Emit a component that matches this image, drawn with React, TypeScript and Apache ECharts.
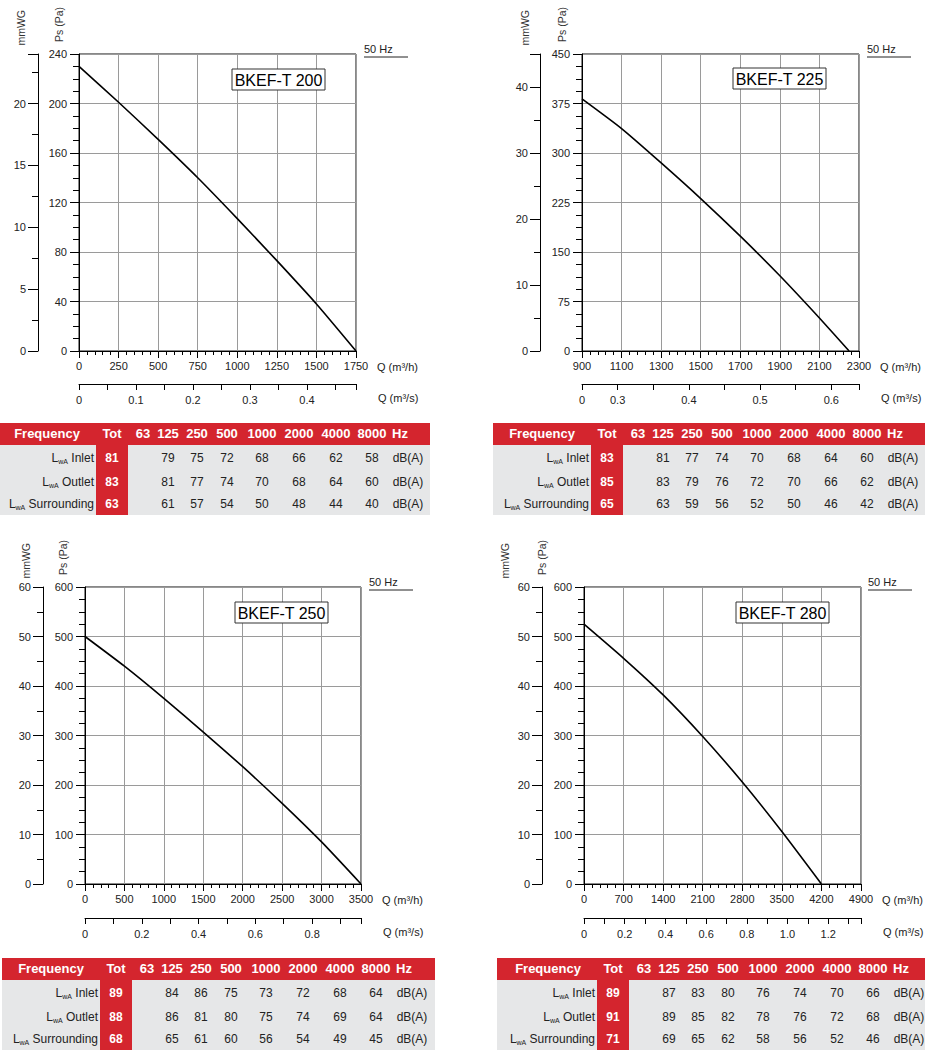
import React, { useEffect, useRef } from 'react';
import * as echarts from 'echarts';

const FONT = '"Liberation Sans", Arial, Helvetica, sans-serif';

// ---------- data ----------
const models = ['BKEF-T 200', 'BKEF-T 225', 'BKEF-T 250', 'BKEF-T 280'];

// Q (m³/h) axes
const qhMin = [0, 900, 0, 0];
const qhMax = [1750, 2300, 3500, 4900];
const qhStep = [250, 200, 500, 700];
// Ps (Pa) axes
const paMax = [240, 450, 600, 600];
const paStep = [40, 75, 100, 100];
// mmWG axes (label step)
const mmStep = [5, 10, 10, 10];
// Q (m³/s) secondary axes: tick step and label step, in m³/s
const qsTickStep = [0.05, 0.05, 0.1, 0.1];
const qsLabelStep = [0.1, 0.1, 0.2, 0.2];

// fan curves: [Q m³/h, Ps Pa]
const curve200 = [[0, 230], [250, 201], [500, 171], [750, 140], [1000, 107], [1250, 73], [1500, 38], [1750, 0]];
const curve225 = [[900, 382], [1100, 337], [1300, 285], [1500, 231], [1700, 174], [1900, 114], [2100, 50], [2250, 0]];
const curve250 = [[0, 500], [500, 440], [1000, 375], [1500, 307], [2000, 237], [2500, 163], [3000, 85], [3500, 0]];
const curve280 = [[0, 525], [700, 456], [1400, 382], [2100, 298], [2800, 206], [3500, 106], [4200, 0]];
const curves = [curve200, curve225, curve250, curve280];

// sound tables
const bands = ['63', '125', '250', '500', '1000', '2000', '4000', '8000'];
const rowNames = ['Inlet', 'Outlet', 'Surrounding'];
const tot200 = [81, 83, 63];
const rows200 = [[79, 75, 72, 68, 66, 62, 58], [81, 77, 74, 70, 68, 64, 60], [61, 57, 54, 50, 48, 44, 40]];
const tot225 = [83, 85, 65];
const rows225 = [[81, 77, 74, 70, 68, 64, 60], [83, 79, 76, 72, 70, 66, 62], [63, 59, 56, 52, 50, 46, 42]];
const tot250 = [89, 88, 68];
const rows250 = [[84, 86, 75, 73, 72, 68, 64], [86, 81, 80, 75, 74, 69, 64], [65, 61, 60, 56, 54, 49, 45]];
const tot280 = [89, 91, 71];
const rows280 = [[87, 83, 80, 76, 74, 70, 66], [89, 85, 82, 78, 76, 72, 68], [69, 65, 62, 58, 56, 52, 46]];
const tots = [tot200, tot225, tot250, tot280];
const rowsAll = [rows200, rows225, rows250, rows280];

// ---------- layout ----------
const panels = [
  { left: 79, top: 54, width: 277, height: 297, qsOff: 33, mmOff: 41, mmNameX: 21, paNameX: 59, title: [232, 69], hz: [364, 49] },
  { left: 582, top: 54, width: 277, height: 297, qsOff: 33, mmOff: 42, mmNameX: 525, paNameX: 562, title: [733, 68], hz: [867, 49] },
  { left: 85, top: 587, width: 276, height: 297, qsOff: 34, mmOff: 42, mmNameX: 26, paNameX: 63, title: [235, 602], hz: [369, 582] },
  { left: 584, top: 587, width: 277, height: 297, qsOff: 34, mmOff: 42, mmNameX: 505, paNameX: 542, title: [736, 602], hz: [868, 582] },
];
const tables = [
  { x0: 0, left: 0, right: 430, top: 423 },
  { x0: 495, left: 493, right: 925, top: 423 },
  { x0: 4, left: 2, right: 435, top: 958 },
  { x0: 501, left: 497, right: 925, top: 958 },
];
const bandCx = [143, 168, 197, 227, 262, 299, 336, 372];
const RED = '#d4252e';
const GRAY_BG = '#e6e7e8';
const INK = '#222';

const isMultiple = (v: number, step: number) => {
  const r = v / step;
  return Math.abs(r - Math.round(r)) < 1e-6;
};

function buildOption() {
  const grid: any[] = [];
  const xAxis: any[] = [];
  const yAxis: any[] = [];
  const series: any[] = [];
  const graphic: any[] = [];
  const axisLineStyle = { color: '#000', width: 1 };
  const labelStyle = { fontSize: 11, color: INK, fontFamily: FONT };

  // main plot grids: 0..3 ; secondary Q (m³/s) strips: 4..7
  panels.forEach((p) => {
    grid.push({ left: p.left, top: p.top, width: p.width, height: p.height, show: true, borderColor: '#111', borderWidth: 1, containLabel: false });
  });
  panels.forEach((p) => {
    grid.push({ left: p.left, top: p.top + p.height + p.qsOff - 1, width: p.width, height: 1, show: false, containLabel: false });
  });

  panels.forEach((p, i) => {
    const mmMax = paMax[i] / 10;
    // Q m³/h  (xAxis i)
    xAxis[i] = {
      type: 'value', gridIndex: i, position: 'bottom', min: qhMin[i], max: qhMax[i], interval: qhStep[i],
      axisLine: { show: true, onZero: false, lineStyle: axisLineStyle },
      axisTick: { show: true, length: 7, lineStyle: axisLineStyle },
      minorTick: { show: true, splitNumber: 5, length: 4, lineStyle: axisLineStyle },
      axisLabel: { ...labelStyle, margin: 9, showMinLabel: true, showMaxLabel: true, formatter: (v: number) => String(v) },
      splitLine: { show: true, lineStyle: { color: '#9a9a9a', width: 1 } },
    };
    // Q m³/s  (xAxis 4+i, own strip grid; scale in m³/h, labelled in m³/s)
    const qsTickH = qsTickStep[i] * 3600;
    xAxis[4 + i] = {
      type: 'value', gridIndex: 4 + i, position: 'bottom', min: qhMin[i], max: qhMax[i], interval: qsTickH,
      axisLine: { show: true, onZero: false, lineStyle: axisLineStyle },
      axisTick: { show: true, inside: false, length: 6, lineStyle: { color: '#000', width: 1 } },
      axisLabel: {
        ...labelStyle, margin: 10, showMinLabel: true, showMaxLabel: true, hideOverlap: false,
        formatter: (v: number) => {
          if (v === qhMin[i]) return '0';
          if (v === qhMax[i]) return '';
          const s = v / 3600;
          if (!isMultiple(s, qsLabelStep[i])) return '';
          return s.toFixed(1);
        },
      },
      splitLine: { show: false },
    };
    // Ps (Pa)  (yAxis 2i)
    yAxis[2 * i] = {
      type: 'value', gridIndex: i, position: 'left', min: 0, max: paMax[i], interval: paStep[i],
      axisLine: { show: true, onZero: false, lineStyle: axisLineStyle },
      axisTick: { show: true, length: 9, lineStyle: axisLineStyle },
      minorTick: { show: true, splitNumber: 4, length: 6, lineStyle: axisLineStyle },
      axisLabel: { ...labelStyle, margin: 12, formatter: (v: number) => String(v) },
      splitLine: { show: true, lineStyle: { color: '#9a9a9a', width: 1 } },
    };
    // mmWG  (yAxis 2i+1)
    yAxis[2 * i + 1] = {
      type: 'value', gridIndex: i, position: 'left', offset: p.mmOff, min: 0, max: mmMax, interval: mmStep[i],
      axisLine: { show: true, onZero: false, lineStyle: axisLineStyle },
      axisTick: { show: true, length: 10, lineStyle: axisLineStyle },
      minorTick: { show: true, splitNumber: 2, length: 6, lineStyle: axisLineStyle },
      axisLabel: {
        ...labelStyle, margin: 12, showMaxLabel: isMultiple(mmMax, mmStep[i]),
        formatter: (v: number) => (isMultiple(v, mmStep[i]) ? String(v) : ''),
      },
      splitLine: { show: false },
    };
    // hidden y for the strip grid  (yAxis 8+i)
    yAxis[8 + i] = { type: 'value', gridIndex: 4 + i, min: 0, max: 1, show: false };

    series.push({
      type: 'line', xAxisIndex: i, yAxisIndex: 2 * i, data: curves[i], smooth: 0.2,
      symbol: 'none', showSymbol: false, silent: true, z: 5,
      lineStyle: { color: '#000', width: 1.6 },
    });

    const right = p.left + p.width;
    const bottom = p.top + p.height;
    // title box
    graphic.push({ type: 'rect', shape: { x: p.title[0], y: p.title[1], width: 93, height: 21 }, style: { fill: '#fff', stroke: '#333', lineWidth: 1 }, z: 10 });
    graphic.push({ type: 'text', x: p.title[0] + 46.5, y: p.title[1] + 11, style: { text: models[i], fontSize: 16, fontFamily: FONT, fill: '#000', align: 'center', verticalAlign: 'middle' }, z: 11 });
    // 50 Hz
    graphic.push({ type: 'text', x: p.hz[0], y: p.hz[1], style: { text: '50 Hz', fontSize: 11, fontFamily: FONT, fill: INK, align: 'left', verticalAlign: 'middle' } });
    graphic.push({ type: 'line', shape: { x1: p.hz[0], y1: p.hz[1] + 8, x2: p.hz[0] + 44, y2: p.hz[1] + 8 }, style: { stroke: '#222', lineWidth: 1 } });
    // axis names (vertical)
    graphic.push({ type: 'text', x: p.mmNameX, y: p.top - 44, rotation: Math.PI / 2, style: { text: 'mmWG', fontSize: 10.5, fontFamily: FONT, fill: '#333', align: 'right', verticalAlign: 'middle' } });
    graphic.push({ type: 'text', x: p.paNameX, y: p.top - 47, rotation: Math.PI / 2, style: { text: 'Ps (Pa)', fontSize: 10.5, fontFamily: FONT, fill: '#333', align: 'right', verticalAlign: 'middle' } });
    // Q labels
    graphic.push({ type: 'text', x: right + 21, y: bottom + 16, style: { text: 'Q (m³/h)', fontSize: 11, fontFamily: FONT, fill: INK, align: 'left', verticalAlign: 'middle' } });
    graphic.push({ type: 'text', x: right + 22, y: bottom + p.qsOff + 14, style: { text: 'Q (m³/s)', fontSize: 11, fontFamily: FONT, fill: INK, align: 'left', verticalAlign: 'middle' } });

    // sound table
    const t = tables[i];
    const hh = 22;
    const bh = 70;
    graphic.push({ type: 'rect', shape: { x: t.left, y: t.top, width: t.right - t.left, height: hh }, style: { fill: RED } });
    graphic.push({ type: 'rect', shape: { x: t.left, y: t.top + hh, width: t.right - t.left, height: bh }, style: { fill: GRAY_BG } });
    graphic.push({ type: 'rect', shape: { x: t.x0 + 96, y: t.top + hh, width: 32, height: bh }, style: { fill: RED } });
    const hStyle = { fontSize: 13, fontWeight: 'bold', fontFamily: FONT, fill: '#fff', verticalAlign: 'middle' };
    const hy = t.top + 10;
    graphic.push({ type: 'text', x: t.x0 + 47, y: hy, style: { ...hStyle, text: 'Frequency', align: 'center' } });
    graphic.push({ type: 'text', x: t.x0 + 112, y: hy, style: { ...hStyle, text: 'Tot', align: 'center' } });
    bands.forEach((b, k) => {
      graphic.push({ type: 'text', x: t.x0 + bandCx[k], y: hy, style: { ...hStyle, text: b, align: 'center' } });
    });
    graphic.push({ type: 'text', x: t.x0 + 392, y: hy, style: { ...hStyle, text: 'Hz', align: 'left' } });
    const rowY = [35, 59, 81];
    rowNames.forEach((rn, r) => {
      const y = t.top + rowY[r];
      graphic.push({
        type: 'text', x: t.x0 + 94, y,
        style: {
          text: '{l|L}{s|wA}{t| ' + rn + '}', align: 'right', verticalAlign: 'middle', fill: INK,
          rich: {
            l: { fontSize: 12, fontFamily: FONT, fill: INK, lineHeight: 14 },
            s: { fontSize: 7, fontFamily: FONT, fill: INK, lineHeight: 6, verticalAlign: 'bottom' },
            t: { fontSize: 12, fontFamily: FONT, fill: INK, lineHeight: 14 },
          },
        },
      });
      graphic.push({ type: 'text', x: t.x0 + 112, y, style: { text: String(tots[i][r]), fontSize: 12, fontWeight: 'bold', fontFamily: FONT, fill: '#fff', align: 'center', verticalAlign: 'middle' } });
      rowsAll[i][r].forEach((v, k) => {
        graphic.push({ type: 'text', x: t.x0 + bandCx[k + 1], y, style: { text: String(v), fontSize: 12, fontFamily: FONT, fill: INK, align: 'center', verticalAlign: 'middle' } });
      });
      graphic.push({ type: 'text', x: t.x0 + 408, y, style: { text: 'dB(A)', fontSize: 12, fontFamily: FONT, fill: INK, align: 'center', verticalAlign: 'middle' } });
    });
  });

  return {
    animation: false,
    backgroundColor: '#fff',
    textStyle: { fontFamily: FONT },
    grid,
    xAxis,
    yAxis,
    series,
    graphic: { elements: graphic },
  };
}

export default function App() {
  const ref = useRef<HTMLDivElement>(null);
  useEffect(() => {
    if (!ref.current) return;
    const chart = echarts.init(ref.current, undefined, { renderer: 'svg' });
    chart.setOption(buildOption() as any);
    return () => chart.dispose();
  }, []);
  return <div ref={ref} style={{ position: 'absolute', left: 0, top: 0, width: 933, height: 1058 }} />;
}
